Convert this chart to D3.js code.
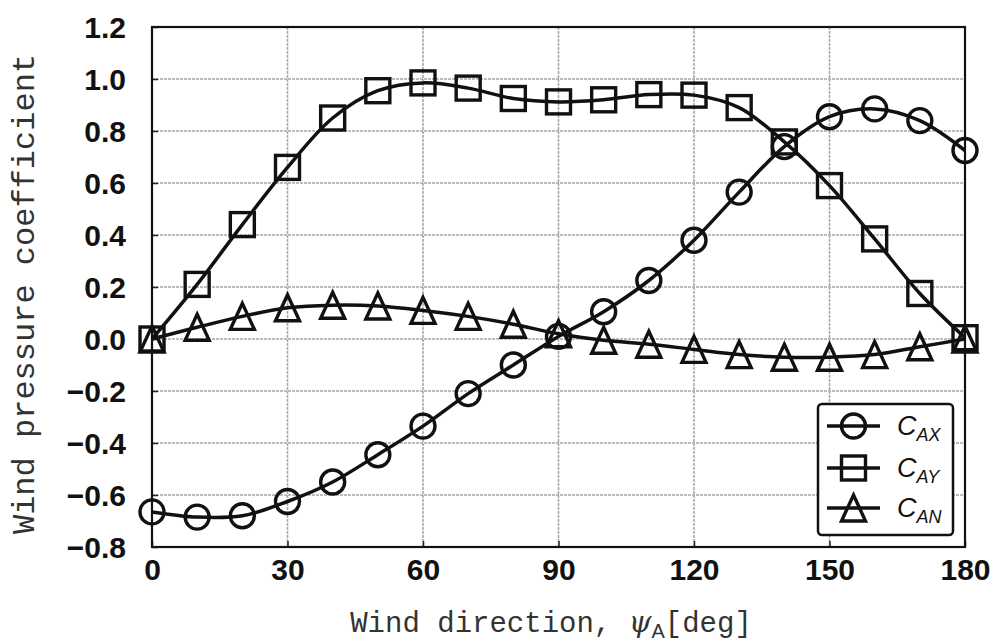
<!DOCTYPE html>
<html>
<head>
<meta charset="utf-8">
<script src="https://cdn.jsdelivr.net/npm/d3@7"></script>
<style>
  html, body { margin: 0; padding: 0; background: #fff; }
  svg { display: block; }
</style>
</head>
<body>
<svg id="chart" width="999" height="644"></svg>
<script>
// Wind direction (deg)
const angles = [0, 10, 20, 30, 40, 50, 60, 70, 80, 90, 100, 110, 120, 130, 140, 150, 160, 170, 180];

// Wind pressure coefficients
const cAX = [-0.665, -0.685, -0.68, -0.625, -0.55, -0.445, -0.335, -0.21, -0.10, 0.01, 0.105, 0.225, 0.38, 0.565, 0.74, 0.855, 0.885, 0.84, 0.725];
const cAY = [0.0, 0.21, 0.44, 0.66, 0.85, 0.955, 0.985, 0.965, 0.925, 0.912, 0.92, 0.94, 0.938, 0.89, 0.758, 0.59, 0.385, 0.175, 0.005];
const cAN = [0.0, 0.045, 0.087, 0.12, 0.13, 0.127, 0.11, 0.087, 0.057, 0.02, -0.005, -0.02, -0.04, -0.06, -0.07, -0.07, -0.06, -0.03, 0.0];

const xTicks = [0, 30, 60, 90, 120, 150, 180];
const yTicks = [-0.8, -0.6, -0.4, -0.2, 0.0, 0.2, 0.4, 0.6, 0.8, 1.0, 1.2];

const seriesNames = ["AX", "AY", "AN"];
const seriesValues = [cAX, cAY, cAN];
const markerKinds = ["circle", "square", "triangle"];

const svg = d3.select("#chart");
const plot = { left: 152, right: 965, top: 27, bottom: 547 };

const x = d3.scaleLinear().domain([0, 180]).range([plot.left, plot.right]);
const y = d3.scaleLinear().domain([-0.8, 1.2]).range([plot.bottom, plot.top]);

const fmt = v => (v < 0 ? "\u2212" : "") + Math.abs(v).toFixed(1);

// grid
const grid = svg.append("g").attr("stroke", "#a8a8a8").attr("stroke-width", 1.6).attr("stroke-dasharray", "3,1");
grid.selectAll("line.gx").data(xTicks.slice(1, -1)).join("line")
  .attr("x1", d => x(d)).attr("x2", d => x(d))
  .attr("y1", plot.top).attr("y2", plot.bottom);
grid.selectAll("line.gy").data(yTicks.slice(1, -1)).join("line")
  .attr("x1", plot.left).attr("x2", plot.right)
  .attr("y1", d => y(d)).attr("y2", d => y(d));

// axes with inward ticks
const xAxis = d3.axisBottom(x).tickValues(xTicks).tickSize(-6).tickPadding(10).tickFormat(d3.format("d"));
const yAxis = d3.axisLeft(y).tickValues(yTicks).tickSize(-6).tickPadding(26).tickFormat(fmt);

const gx = svg.append("g").attr("transform", `translate(0,${plot.bottom})`).call(xAxis);
const gy = svg.append("g").attr("transform", `translate(${plot.left},0)`).call(yAxis);
[gx, gy].forEach(g => {
  g.select(".domain").remove();
  g.selectAll(".tick line").attr("stroke", "#222").attr("stroke-width", 1.5);
  g.selectAll(".tick text")
    .attr("fill", "#111")
    .style("font-family", "'Liberation Sans', Arial, sans-serif")
    .style("font-weight", "bold")
    .style("font-size", "30px");
});
gy.selectAll(".tick text").attr("dy", "0.36em");
gx.selectAll(".tick text").attr("dy", "0.75em");

// frame
svg.append("rect")
  .attr("x", plot.left).attr("y", plot.top)
  .attr("width", plot.right - plot.left).attr("height", plot.bottom - plot.top)
  .attr("fill", "none").attr("stroke", "#111").attr("stroke-width", 2.2);

// marker drawing helper
function drawMarker(g, kind, cx, cy) {
  if (kind === "circle") {
    g.append("circle").attr("cx", cx).attr("cy", cy).attr("r", 12);
  } else if (kind === "square") {
    g.append("rect").attr("x", cx - 12).attr("y", cy - 12).attr("width", 24).attr("height", 24);
  } else {
    const w = 12, h = 13;
    g.append("path").attr("d", `M${cx},${cy - h}L${cx + w},${cy + h}L${cx - w},${cy + h}Z`);
  }
}

const line = d3.line().x((d, i) => x(angles[i])).y(d => y(d)).curve(d3.curveCatmullRom.alpha(0.5));

seriesValues.forEach((vals, si) => {
  const g = svg.append("g");
  g.append("path").attr("d", line(vals))
    .attr("fill", "none").attr("stroke", "#111").attr("stroke-width", 3.5);
  const mg = g.append("g").attr("fill", "none").attr("stroke", "#111").attr("stroke-width", 3.4);
  vals.forEach((v, i) => drawMarker(mg, markerKinds[si], x(angles[i]), y(v)));
});

// legend
const legend = svg.append("g");
legend.append("rect")
  .attr("x", 818).attr("y", 404).attr("width", 135).attr("height", 131)
  .attr("rx", 4).attr("fill", "#fff").attr("stroke", "#111").attr("stroke-width", 2.5);
const legendRows = [426, 468, 508];
seriesNames.forEach((name, i) => {
  const ly = legendRows[i];
  const lg = legend.append("g").attr("fill", "none").attr("stroke", "#111").attr("stroke-width", 3.4);
  lg.append("line").attr("x1", 827).attr("x2", 880).attr("y1", ly).attr("y2", ly);
  drawMarker(lg, markerKinds[i], 853.5, ly);
  const t = legend.append("text")
    .attr("x", 897).attr("y", ly + 9)
    .attr("fill", "#111")
    .style("font-family", "'Liberation Sans', Arial, sans-serif")
    .style("font-style", "italic")
    .style("font-size", "27px");
  t.append("tspan").text("C");
  t.append("tspan").attr("dy", 6).style("font-size", "18px").text(name);
});

// axis titles
const mono = "'Liberation Mono', 'Courier New', monospace";
const xt = svg.append("text")
  .attr("x", 551).attr("y", 632)
  .attr("text-anchor", "middle")
  .attr("fill", "#333")
  .style("font-family", mono)
  .style("font-size", "29px");
xt.append("tspan").text("Wind direction, ");
xt.append("tspan").style("font-family", "'DejaVu Serif', serif").style("font-style", "italic").text("\u03C8");
xt.append("tspan").attr("dy", 6).style("font-family", "'Liberation Sans', Arial, sans-serif").style("font-size", "20px").text("A");
xt.append("tspan").attr("dy", -6).text("[deg]");

svg.append("text")
  .attr("transform", "translate(34,294) rotate(-90)")
  .attr("text-anchor", "middle")
  .attr("fill", "#333")
  .style("font-family", mono)
  .style("font-size", "32px")
  .text("Wind pressure coefficient");
</script>
</body>
</html>
